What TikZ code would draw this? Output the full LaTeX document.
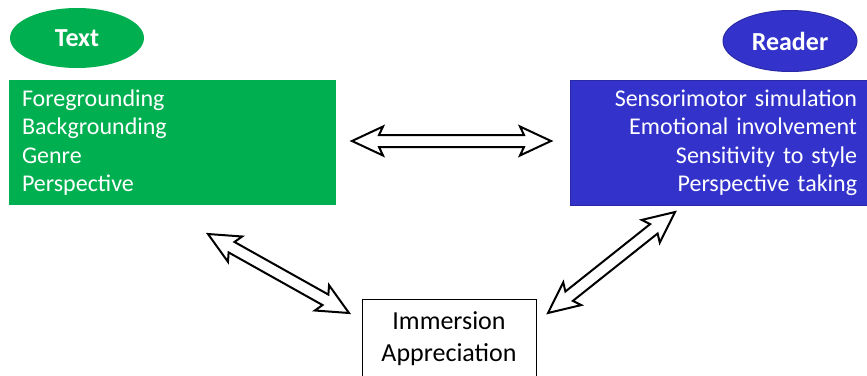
\documentclass[tikz,border=0pt]{standalone}
\usepackage{fontspec}
\setmainfont{Carlito}
\usetikzlibrary{calc,shapes.geometric}
\definecolor{tgreen}{HTML}{00B050}
\definecolor{rblue}{HTML}{3333CC}
\definecolor{rblueedge}{HTML}{2A2AA6}
\newcommand\dblarrow[2]{%
  \draw[blockarrow]
    (#1)
    -- ($(#1)!31pt!(#2)!14.5pt!90:(#2)$)
    -- ($(#1)!27pt!(#2)!6pt!90:(#2)$)
    -- ($(#2)!27pt!(#1)!6pt!-90:(#1)$)
    -- ($(#2)!31pt!(#1)!14.5pt!-90:(#1)$)
    -- (#2)
    -- ($(#2)!31pt!(#1)!14.5pt!90:(#1)$)
    -- ($(#2)!27pt!(#1)!6pt!90:(#1)$)
    -- ($(#1)!27pt!(#2)!6pt!-90:(#2)$)
    -- ($(#1)!31pt!(#2)!14.5pt!-90:(#2)$)
    -- cycle;}
\begin{document}
\begin{tikzpicture}[x=1pt,y=-1pt,
  title/.style={ellipse, inner sep=0pt, text=white,
    font=\fontsize{26}{30}\selectfont\bfseries},
  listbox/.style={rectangle, text=white, inner ysep=0pt,
    font=\fontsize{24}{28.5}\selectfont},
  blockarrow/.style={draw=black, fill=white, line width=2pt, line join=miter}]
\useasboundingbox (0,0) rectangle (867,375);
% titles
\node[title, fill=tgreen, minimum width=134pt, minimum height=60pt] (ttext) at (77,38) {Text};
\node[title, fill=rblue, draw=rblueedge, line width=1pt, minimum width=134pt, minimum height=61pt] (treader) at (790,41) {Reader};
% boxes
\node[listbox, fill=tgreen, minimum width=327pt, minimum height=125pt,
      text width=301pt, inner xsep=13pt, align=left] (tbox) at (172.5,142.5)
  {Foregrounding\\Backgrounding\\Genre\\Perspective};
\node[listbox, fill=rblue, draw=rblueedge, line width=1pt, minimum width=298pt, minimum height=125pt,
      text width=275pt, inner xsep=11.5pt, align=right] (rbox) at (719.5,142.5)
  {Sensorimotor simulation\\Emotional involvement\\Sensitivity to style\\Perspective taking};
\node[rectangle, draw=black, line width=0.8pt, fill=white, anchor=north,
      minimum width=174pt, minimum height=90pt, inner ysep=0pt] (ibox) at (449,299) {};
\node[font=\fontsize{26}{32}\selectfont, align=center] (itext) at (449,339) {Immersion\\Appreciation};
% arrows
\coordinate (h1) at (352,141);
\coordinate (h2) at (551,141);
\coordinate (l1) at (208,234);
\coordinate (l2) at (349,313);
\coordinate (r1) at (675,212);
\coordinate (r2) at (548,313);
\dblarrow{h1}{h2}
\dblarrow{l1}{l2}
\dblarrow{r1}{r2}
\end{tikzpicture}
\end{document}
